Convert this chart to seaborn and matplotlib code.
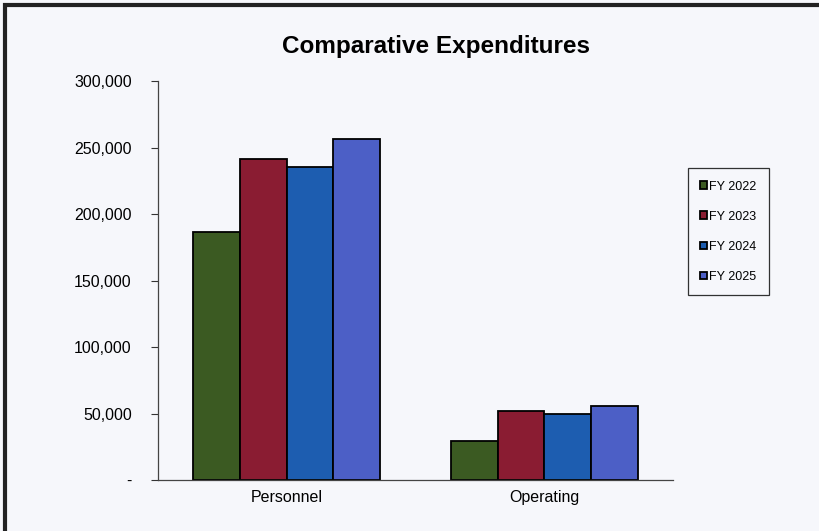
import matplotlib
matplotlib.use("Agg")
import matplotlib.pyplot as plt
from matplotlib.patches import Rectangle
from matplotlib.ticker import FuncFormatter
import seaborn as sns
import pandas as pd

# Values
categories = ["Personnel", "Operating"]
years = ["FY 2022", "FY 2023", "FY 2024", "FY 2025"]
personnel = [186700, 241400, 235600, 256400]
operating = [29300, 51900, 49800, 55600]
colors = ["#3b5a22", "#8a1c32", "#1d5db0", "#4c5fc6"]

rows = []
for year, p, o in zip(years, personnel, operating):
    rows.append({"Category": "Personnel", "Year": year, "Value": p})
    rows.append({"Category": "Operating", "Year": year, "Value": o})
df = pd.DataFrame(rows)

sns.set_style("white")
plt.rcParams["font.family"] = ["Liberation Sans", "DejaVu Sans"]
plt.rcParams["text.color"] = "black"
plt.rcParams["xtick.color"] = "black"
plt.rcParams["ytick.color"] = "black"

bg = "#f6f7fb"
fig = plt.figure(figsize=(8.2, 5.31), dpi=100, facecolor=bg)
ax = fig.add_axes([0.1927, 0.0960, 0.628, 0.7514])
ax.set_facecolor(bg)

sns.barplot(data=df, x="Category", y="Value", hue="Year", order=categories,
            hue_order=years, palette=colors, edgecolor="black", linewidth=1.3,
            width=0.725, gap=0, saturation=1, ax=ax, legend=True)

ax.set_ylim(0, 300000)
ax.set_xlim(-0.5, 1.5)
ax.set_yticks(range(0, 300001, 50000))
ax.yaxis.set_major_formatter(FuncFormatter(lambda v, _: "-" if v == 0 else f"{int(v):,}"))
ax.tick_params(axis="y", direction="out", length=5, width=0.8, color="#333333",
               labelsize=11.5, pad=14, left=True)
ax.tick_params(axis="x", length=0, labelsize=11.5, pad=7)
ax.set_xlabel("")
ax.set_ylabel("")
for side in ["top", "right"]:
    ax.spines[side].set_visible(False)
for side in ["left", "bottom"]:
    ax.spines[side].set_color("#444444")
    ax.spines[side].set_linewidth(0.9)

handles, labels = ax.get_legend_handles_labels()
leg = ax.legend(handles, labels, loc="upper left",
                bbox_to_anchor=(688 / 820, 1 - 168 / 531),
                bbox_transform=fig.transFigure, frameon=True, fancybox=False,
                edgecolor="black", facecolor=bg, fontsize=9,
                handlelength=0.55, handleheight=0.55, handletextpad=0.15,
                labelspacing=1.45, borderpad=1.0, borderaxespad=0)
leg.get_frame().set_linewidth(0.9)

fig.suptitle("Comparative Expenditures", x=436 / 820, y=1 - 46 / 531,
             va="center", fontsize=17.5, fontweight="bold")

# chart frame from the scan
fig.patches.append(Rectangle((5 / 820, -0.1), 1.1, 1 - 5 / 531 + 0.1,
                             transform=fig.transFigure, fill=False,
                             edgecolor="#222222", linewidth=3))

fig.savefig("out.png", dpi=100, facecolor=bg)
